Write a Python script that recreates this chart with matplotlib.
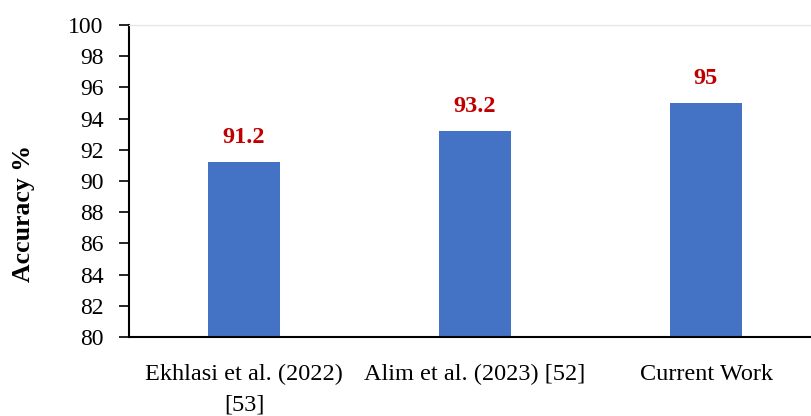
import matplotlib.pyplot as plt

# accuracy of each method
methods = ['Ekhlasi et al. (2022)\n[53]', 'Alim et al. (2023) [52]', 'Current Work']
accuracy = [91.2, 93.2, 95]
y_ticks = list(range(80, 101, 2))

plt.rcParams['font.family'] = ['Liberation Serif', 'DejaVu Serif']

fig = plt.figure(figsize=(8.11, 4.16), dpi=100)
# plot area runs past the right edge, like the original export
ax = fig.add_axes([128.5 / 811, 1 - 337 / 416, 693 / 811, 312 / 416])

x = range(len(methods))
ax.bar(x, accuracy, width=0.31, color='#4472C4', zorder=2)
for xi, v in zip(x, accuracy):
    ax.annotate(f'{v:g}', (xi, v), xytext=(0, 14), textcoords='offset points',
                ha='center', va='baseline', color='#C00000',
                fontsize=17.5, fontweight='bold')

ax.set_xlim(-0.5, 2.5)
ax.set_ylim(80, 100)
ax.set_yticks(y_ticks)
ax.tick_params(axis='y', labelsize=17, length=7.5, width=1.2, direction='out', pad=10.5)
ax.set_xticks(list(x))
ax.set_xticklabels(methods, fontsize=17.5, linespacing=1.55)
ax.tick_params(axis='x', length=0, pad=19.5)
ax.set_ylabel('Accuracy %', fontsize=18.5, fontweight='bold')
# label sits a bit below the middle of the axis
ax.yaxis.set_label_coords(-0.135, 0.397)

ax.spines['left'].set_linewidth(1.5)
ax.spines['bottom'].set_linewidth(1.5)
ax.spines['right'].set_visible(False)
ax.spines['top'].set_color('#e6e6e6')
ax.spines['top'].set_linewidth(1)

fig.savefig('out.png', dpi=100)
